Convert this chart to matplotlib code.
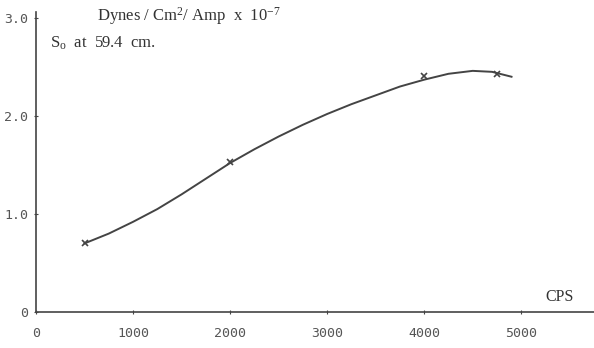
import matplotlib
matplotlib.use("Agg")
import matplotlib.pyplot as plt

plt.rcParams["mathtext.fontset"] = "custom"
plt.rcParams["mathtext.rm"] = "Liberation Serif"
plt.rcParams["mathtext.it"] = "Liberation Serif:italic"

# measured points (crosses)
meas_cps = [500, 2000, 4000, 4750]
meas_val = [0.70, 1.53, 2.41, 2.43]

# smooth curve
curve_cps = [500, 750, 1000, 1250, 1500, 1750, 2000, 2250, 2500, 2750, 3000,
             3250, 3500, 3750, 4000, 4250, 4500, 4700, 4900]
curve_val = [0.70, 0.80, 0.92, 1.05, 1.20, 1.36, 1.52, 1.66, 1.79, 1.91, 2.02,
             2.12, 2.21, 2.30, 2.37, 2.43, 2.46, 2.45, 2.40]

x_ticks = [0, 1000, 2000, 3000, 4000, 5000]
y_ticks = [0, 1.0, 2.0, 3.0]
y_labels = ["0", "1.0", "2.0", "3.0"]

ink = "#444444"
txt = "#333333"

fig = plt.figure(figsize=(5.94, 3.48), dpi=100)
ax = fig.add_axes([0.0606, 0.1034, 0.9394, 0.862])
ax.set_xlim(0, 5750)
ax.set_ylim(0, 3.06)

ax.plot(curve_cps, curve_val, color=ink, lw=1.4)
ax.plot(meas_cps, meas_val, "x", color=ink, ms=4, mew=1.2)

for s in ["top", "right"]:
    ax.spines[s].set_visible(False)
for s in ["left", "bottom"]:
    ax.spines[s].set_color(ink)
    ax.spines[s].set_linewidth(1.2)

ax.set_xticks(x_ticks)
ax.set_xticklabels([str(t) for t in x_ticks], family="DejaVu Sans Mono", fontsize=9.5, color="#555555")
ax.set_yticks(y_ticks)
ax.set_yticklabels(y_labels, family="DejaVu Sans Mono", fontsize=9.5, color="#555555")
ax.tick_params(axis="x", direction="inout", length=3, color=ink, pad=9)
ax.tick_params(axis="y", direction="inout", length=3, color=ink, pad=4)

ax.text(0.109, 0.985, "Dynes / Cm$^2$/ Amp  x  10$^{-7}$", transform=ax.transAxes,
        family="Liberation Serif", fontsize=12, color=txt, ha="left", va="center")
ax.text(0.025, 0.895, "S$_{\\rm o}$  at  59.4  cm.", transform=ax.transAxes,
        family="Liberation Serif", fontsize=12, color=txt, ha="left", va="center")
ax.text(0.939, 0.05, "CPS", transform=ax.transAxes,
        family="Liberation Serif", fontsize=11.5, color=txt, ha="center", va="center")

fig.savefig("out.png", dpi=100)
